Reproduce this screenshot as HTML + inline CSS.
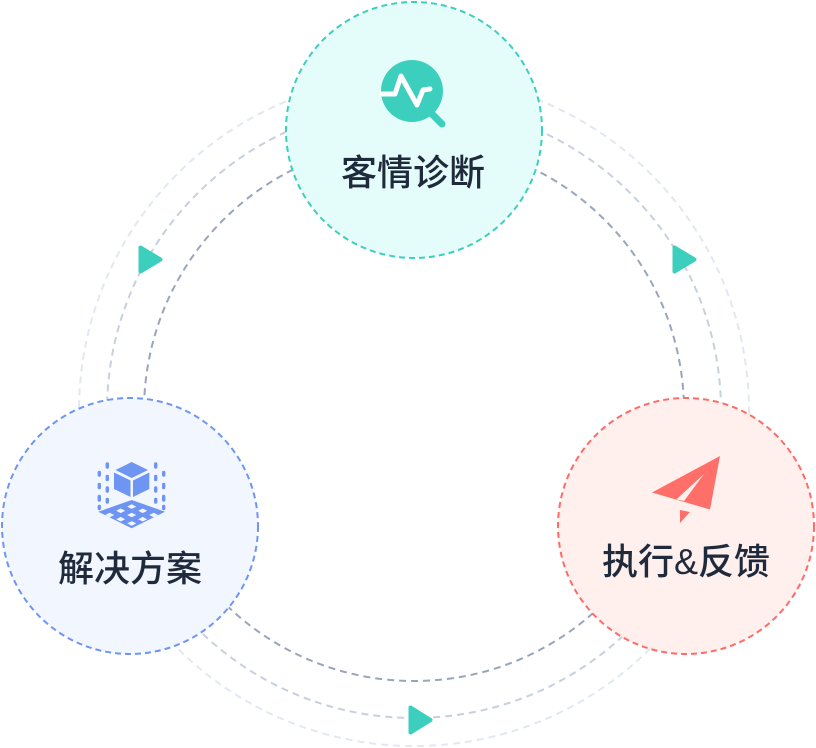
<!DOCTYPE html>
<html>
<head>
<meta charset="utf-8">
<style>
  html,body{margin:0;padding:0;background:#ffffff;}
  body{width:816px;height:748px;overflow:hidden;}
  svg{display:block;}
  text{font-family:"Liberation Sans","Noto Sans CJK SC",sans-serif;font-weight:500;font-size:36px;fill:#1f2b3c;}
</style>
</head>
<body>
<svg width="816" height="748" viewBox="0 0 816 748" xmlns="http://www.w3.org/2000/svg">
  <!-- concentric dashed rings -->
  <circle cx="414" cy="411" r="335" fill="none" stroke="#e2e8f1" stroke-width="2" stroke-dasharray="7 5"/>
  <circle cx="414" cy="411" r="307" fill="none" stroke="#c8d0de" stroke-width="2" stroke-dasharray="7 5"/>
  <circle cx="414" cy="411" r="270" fill="none" stroke="#99a5bb" stroke-width="2" stroke-dasharray="7 5"/>

  <!-- arrows -->
  <polygon points="140.5,247.5 160.5,259.5 140.5,271.5" fill="#3ccfbd" stroke="#3ccfbd" stroke-width="4" stroke-linejoin="round"/>
  <polygon points="674.5,247.5 694.5,259.5 674.5,271.5" fill="#3ccfbd" stroke="#3ccfbd" stroke-width="4" stroke-linejoin="round"/>
  <polygon points="410.5,707.5 430.5,720 410.5,732.5" fill="#3ccfbd" stroke="#3ccfbd" stroke-width="4" stroke-linejoin="round"/>

  <!-- top node -->
  <circle cx="414" cy="130" r="128" fill="#e5fdfa" stroke="#3ccfbd" stroke-width="2" stroke-dasharray="6 4"/>
  <line x1="430" y1="112" x2="442" y2="124" stroke="#3ccfbd" stroke-width="7" stroke-linecap="round"/>
  <circle cx="412" cy="91" r="31" fill="#3ccfbd"/>
  <polyline points="378,94 395,94 401,76 417,105 423,90 430,89" fill="none" stroke="#ffffff" stroke-width="5" stroke-linecap="round" stroke-linejoin="round"/>
  <rect x="372" y="90" width="8" height="9" fill="#e5fdfa"/>
  <text x="413" y="185" text-anchor="middle">客情诊断</text>

  <!-- left node -->
  <circle cx="130" cy="526" r="128" fill="#f2f6ff" stroke="#6f95f3" stroke-width="2" stroke-dasharray="6 4"/>
  <g fill="#6f95f3">
    <polygon points="131.7,462 148,470 131.7,478 115.4,470"/>
    <polygon points="114,472.5 130.5,480.5 130.5,497 114,489"/>
    <polygon points="133,480.5 149.3,472.5 149.3,489 133,497"/>
    <polygon points="98.3,511.7 131.7,500 165,511.7 131.7,528.3"/>
  </g>
  <g fill="#f2f6ff">
    <polygon points="131.7,504.3 136.2,506.6 131.7,508.9 127.2,506.6"/>
    <polygon points="142.7,508.5 147.2,510.8 142.7,513.1 138.2,510.8"/>
    <polygon points="153.7,512.7 158.2,515 153.7,517.3 149.2,515"/>
    <polygon points="120.7,508.5 125.2,510.8 120.7,513.1 116.2,510.8"/>
    <polygon points="131.7,512.7 136.2,515 131.7,517.3 127.2,515"/>
    <polygon points="142.7,516.9 147.2,519.2 142.7,521.5 138.2,519.2"/>
    <polygon points="109.7,512.7 114.2,515 109.7,517.3 105.2,515"/>
    <polygon points="120.7,516.9 125.2,519.2 120.7,521.5 116.2,519.2"/>
    <polygon points="131.7,521.1 136.2,523.4 131.7,525.7 127.2,523.4"/>
  </g>
  <g stroke="#6f95f3" stroke-width="3.4" stroke-linecap="round" fill="none">
    <line x1="99.3" y1="472.5" x2="99.3" y2="475"/>
    <line x1="99.3" y1="484.5" x2="99.3" y2="487.5"/>
    <line x1="99.3" y1="496.5" x2="99.3" y2="500"/>
    <line x1="99.3" y1="506.5" x2="99.3" y2="508.5"/>
    <line x1="107.3" y1="464" x2="107.3" y2="467"/>
    <line x1="107.3" y1="476.5" x2="107.3" y2="479.5"/>
    <line x1="107.3" y1="488" x2="107.3" y2="491"/>
    <line x1="107.3" y1="499.5" x2="107.3" y2="502"/>
    <line x1="163.7" y1="472.5" x2="163.7" y2="475"/>
    <line x1="163.7" y1="484.5" x2="163.7" y2="487.5"/>
    <line x1="163.7" y1="496.5" x2="163.7" y2="500"/>
    <line x1="163.7" y1="506.5" x2="163.7" y2="508.5"/>
    <line x1="155.7" y1="464" x2="155.7" y2="467"/>
    <line x1="155.7" y1="476.5" x2="155.7" y2="479.5"/>
    <line x1="155.7" y1="488" x2="155.7" y2="491"/>
    <line x1="155.7" y1="499.5" x2="155.7" y2="502"/>
  </g>
  <text x="130" y="581" text-anchor="middle">解决方案</text>

  <!-- right node -->
  <circle cx="686" cy="526" r="128" fill="#fff0ee" stroke="#ff6b66" stroke-width="2" stroke-dasharray="6 4"/>
  <polygon points="720,456 652,492.5 710,509.5" fill="#ff6f69"/>
  <polygon points="704,474 676.5,499.3 684,501" fill="#fff0ee"/>
  <polygon points="680,510 690,512 680,523" fill="#ff6f69"/>
  <text x="686" y="574" text-anchor="middle">执行&amp;反馈</text>
</svg>
</body>
</html>
